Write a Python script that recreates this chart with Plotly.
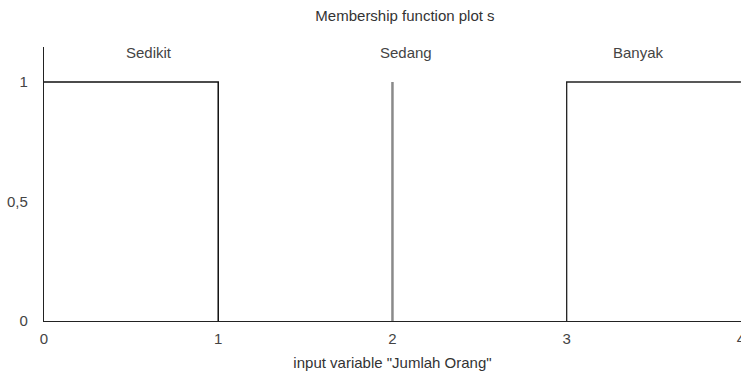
import plotly.graph_objects as go

# Data
sedikit_x = [0, 1, 1]
sedikit_y = [1, 1, 0]
sedang_x = [2, 2]
sedang_y = [0, 1]
banyak_x = [3, 3, 4]
banyak_y = [0, 1, 1]

set_labels = ["Sedikit", "Sedang", "Banyak"]
x_ticks = [0, 1, 2, 3, 4]
y_ticks = [0, 0.5, 1]

FONT = "Liberation Sans"
TXT = "#444444"
FS = 15

fig = go.Figure()
fig.add_trace(go.Scatter(x=sedikit_x, y=sedikit_y, mode="lines",
                         line=dict(color="#111111", width=1.5), showlegend=False,
                         hoverinfo="skip"))
fig.add_trace(go.Scatter(x=sedang_x, y=sedang_y, mode="lines",
                         line=dict(color="#8a8a8a", width=2.5), showlegend=False,
                         hoverinfo="skip"))
fig.add_trace(go.Scatter(x=banyak_x, y=banyak_y, mode="lines",
                         line=dict(color="#222222", width=1.3), showlegend=False,
                         hoverinfo="skip", cliponaxis=False))

label_pos = [0.6, 2.08, 3.41]
for name, xp in zip(set_labels, label_pos):
    fig.add_annotation(x=xp, y=1.125, xref="x", yref="y", text=name,
                       showarrow=False, yanchor="middle",
                       font=dict(family=FONT, size=FS, color=TXT))

fig.update_layout(
    template="none",
    width=741, height=371,
    margin=dict(l=44, r=0, t=47, b=50, autoexpand=False),
    paper_bgcolor="white", plot_bgcolor="white",
    separators=", ",
    font=dict(family=FONT, size=FS, color=TXT),
    title=dict(text="Membership function plot s", x=405/741, xref="container",
               xanchor="center", y=1-16/371, yanchor="middle",
               font=dict(family=FONT, size=FS, color="#333333")),
    xaxis=dict(range=[0, 4.0005], tickvals=x_ticks, showgrid=False, zeroline=False,
               showline=True, linecolor="#222222", linewidth=1.3, automargin=False,
               ticks="", ticklabelstandoff=4, ticklabeloverflow="allow",
               tickfont=dict(family=FONT, size=FS, color=TXT),
               title=dict(text='input variable "Jumlah Orang"', standoff=11,
                          font=dict(family=FONT, size=FS, color="#333333"))),
    yaxis=dict(range=[0, 274/239], tickvals=y_ticks, showgrid=False, zeroline=False,
               showline=True, linecolor="#222222", linewidth=1.3, automargin=False,
               ticks="", ticklabelstandoff=12,
               tickfont=dict(family=FONT, size=FS, color=TXT)),
)

fig.write_html("out.html", config={"displayModeBar": False},
               post_script="document.body.style.margin='0';")
